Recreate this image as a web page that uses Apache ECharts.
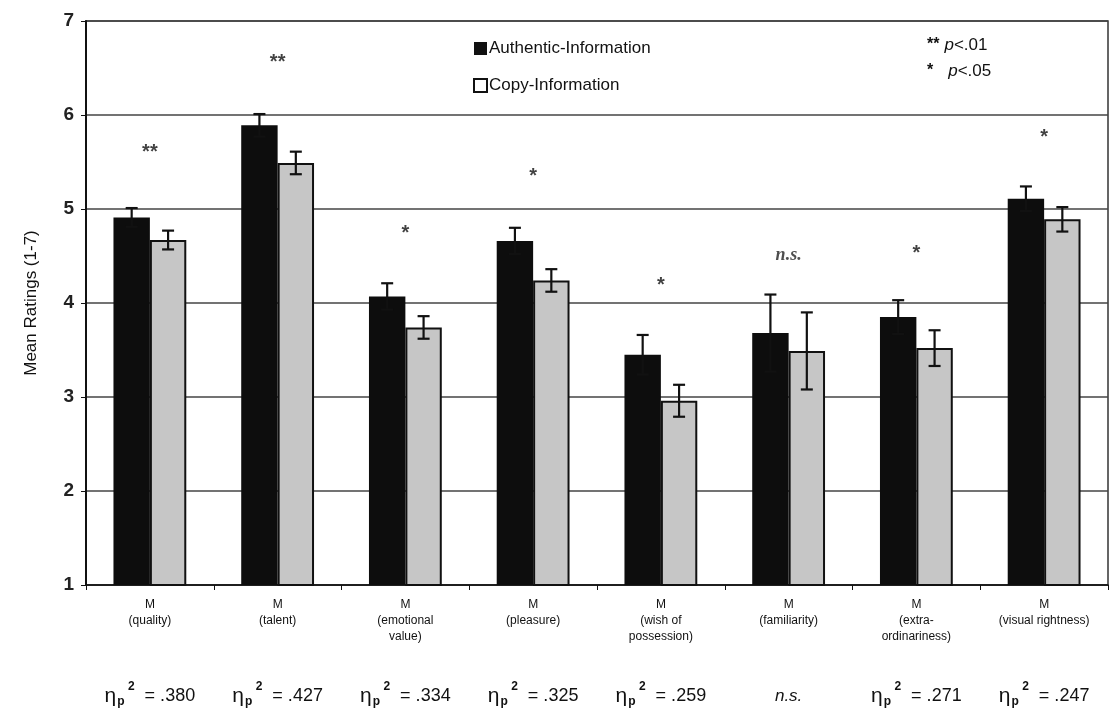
<!DOCTYPE html>
<html>
<head>
<meta charset="utf-8">
<script src="https://cdn.jsdelivr.net/npm/echarts@6/dist/echarts.min.js"></script>
<style>html,body{margin:0;padding:0;background:#fff}#c{width:1111px;height:726px}</style>
</head>
<body>
<div id="c"></div>
<script>
const categories = ['M\n(quality)', 'M\n(talent)', 'M\n(emotional\nvalue)', 'M\n(pleasure)', 'M\n(wish of\npossession)', 'M\n(familiarity)', 'M\n(extra-\nordinariness)', 'M\n(visual rightness)'];
const authentic = [4.91, 5.89, 4.07, 4.66, 3.45, 3.68, 3.85, 5.11];
const authenticErr = [0.10, 0.12, 0.14, 0.14, 0.21, 0.41, 0.18, 0.13];
const copy = [4.67, 5.49, 3.74, 4.24, 2.96, 3.49, 3.52, 4.89];
const copyErr = [0.10, 0.12, 0.12, 0.12, 0.17, 0.41, 0.19, 0.13];
const sigLabels = ['**', '**', '*', '*', '*', 'n.s.', '*', '*'];
const sigY = [5.6, 6.56, 4.74, 5.35, 4.19, 4.51, 4.53, 5.76];
const etaLabels = ['.380', '.427', '.334', '.325', '.259', 'n.s.', '.271', '.247'];
const yTicks = [1, 7, 1]; // min, max, interval

const FONT = 'Liberation Sans';
const chart = echarts.init(document.getElementById('c'));
const BARW = 0.285;

function errItem(side) {
  return function (params, api) {
    const i = api.value(0), v = api.value(1), e = api.value(2);
    const catW = api.size([1, 0])[0];
    const x = api.coord([i, v])[0] + side * catW * BARW / 2;
    const yt = api.coord([i, v + e])[1];
    const yb = api.coord([i, v - e])[1];
    const cap = 6;
    const st = { stroke: '#111', lineWidth: 2.2 };
    return {
      type: 'group',
      children: [
        { type: 'line', shape: { x1: x, y1: yt, x2: x, y2: yb }, style: st },
        { type: 'line', shape: { x1: x - cap, y1: yt, x2: x + cap, y2: yt }, style: st },
        { type: 'line', shape: { x1: x - cap, y1: yb, x2: x + cap, y2: yb }, style: st }
      ]
    };
  };
}

chart.setOption({
  animation: false,
  backgroundColor: '#fff',
  title: {
    left: 922, top: 27,
    text: '{s|**} {p|p}{t|<.01}\n{s|*}   {p|p}{t|<.05}',
    textStyle: {
      fontWeight: 'normal',
      rich: {
        s: { fontSize: 16, fontWeight: 'bold', fontFamily: FONT, color: '#111', lineHeight: 26 },
        p: { fontSize: 17, fontStyle: 'italic', fontWeight: 'normal', fontFamily: FONT, color: '#111', lineHeight: 26 },
        t: { fontSize: 17, fontWeight: 'normal', fontFamily: FONT, color: '#111', lineHeight: 26 }
      }
    }
  },
  legend: {
    orient: 'vertical', left: 468, top: 35, itemGap: 20,
    itemWidth: 13, itemHeight: 13, icon: 'rect',
    textStyle: { fontSize: 17, fontFamily: FONT, color: '#111', padding: [0, 0, 0, -3] },
    data: [
      { name: 'Authentic-Information', itemStyle: { color: '#111' } },
      { name: 'Copy-Information', itemStyle: { color: '#fff', borderColor: '#111', borderWidth: 2 } }
    ]
  },
  grid: { left: 86, right: 3, top: 21, bottom: 141, show: true, borderColor: '#333', borderWidth: 1.5 },
  xAxis: [
    {
      type: 'category', data: categories,
      axisLine: { lineStyle: { color: '#111', width: 1.5 } },
      axisTick: { show: true, length: 5, lineStyle: { color: '#111' } },
      axisLabel: { fontSize: 12, fontFamily: FONT, color: '#111', lineHeight: 16, margin: 12, interval: 0 }
    },
    {
      type: 'category', data: etaLabels, position: 'bottom', offset: 96,
      axisLine: { show: false }, axisTick: { show: false },
      axisLabel: {
        interval: 0, margin: 0,
        formatter: function (v) {
          if (v === 'n.s.') return '{ns|n.s.}';
          return '{e|η}{sub|p}{sup| 2}{t|  = ' + v + '}';
        },
        rich: {
          e: { fontSize: 21, fontFamily: FONT, color: '#111', lineHeight: 30 },
          sub: { fontSize: 12, fontWeight: 'bold', fontFamily: FONT, color: '#111', padding: [12, 0, 0, 1] },
          sup: { fontSize: 12, fontWeight: 'bold', fontFamily: FONT, color: '#111', padding: [0, 0, 18, 0] },
          t: { fontSize: 18, fontFamily: FONT, color: '#111' },
          ns: { fontSize: 17, fontStyle: 'italic', fontFamily: FONT, color: '#111', lineHeight: 30 }
        }
      }
    }
  ],
  yAxis: {
    type: 'value', min: yTicks[0], max: yTicks[1], interval: yTicks[2],
    name: 'Mean Ratings (1-7)', nameLocation: 'middle', nameGap: 46, nameRotate: 90,
    nameTextStyle: { fontSize: 17, fontFamily: FONT, color: '#111' },
    axisLine: { show: true, lineStyle: { color: '#111', width: 2 } },
    axisTick: { show: true, length: 5, lineStyle: { color: '#111' } },
    axisLabel: { fontSize: 19, fontWeight: 'bold', fontFamily: FONT, color: '#222', margin: 12 },
    splitLine: { lineStyle: { color: '#444', width: 1.5 } }
  },
  series: [
    {
      name: 'Authentic-Information', type: 'bar', data: authentic,
      barWidth: (BARW * 100) + '%', barGap: '0%',
      itemStyle: { color: '#0d0d0d' }
    },
    {
      name: 'Copy-Information', type: 'bar', data: copy,
      barWidth: (BARW * 100) + '%', barGap: '0%',
      itemStyle: { color: '#c6c6c6', borderColor: '#111', borderWidth: 2 }
    },
    {
      type: 'custom', renderItem: errItem(-1), z: 5,
      data: categories.map((c, i) => [i, authentic[i], authenticErr[i]])
    },
    {
      type: 'custom', renderItem: errItem(1), z: 5,
      data: categories.map((c, i) => [i, copy[i], copyErr[i]])
    },
    {
      type: 'scatter', symbolSize: 0, z: 6,
      data: categories.map((c, i) => [i, sigY[i], sigLabels[i]]),
      label: {
        show: true, position: 'inside',
        formatter: p => p.value[2] === 'n.s.' ? '{ns|n.s.}' : p.value[2],
        fontSize: 20, fontWeight: 'bold', fontFamily: FONT, color: '#111',
        rich: { ns: { fontSize: 18, fontStyle: 'italic', fontWeight: 'bold', fontFamily: 'Liberation Serif', color: '#222' } }
      }
    }
  ]
});
</script>
</body>
</html>
